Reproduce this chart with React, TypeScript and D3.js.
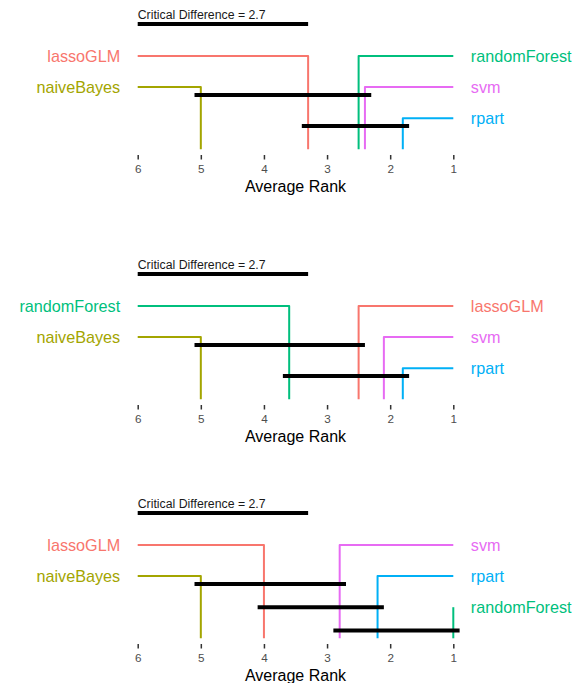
import React, { useEffect, useRef } from "react";
import { select, scaleLinear, axisBottom } from "d3";

// learners and their colours (ggplot hue palette)
const learners = ["lassoGLM", "naiveBayes", "randomForest", "rpart", "svm"];
const learnerColors = ["#F8766D", "#A3A500", "#00BF7D", "#00B0F6", "#E76BF3"];

// average ranks per panel, same order as learners
const ranksTop = [3.3, 5.0, 2.5, 1.8, 2.4];
const ranksMiddle = [2.5, 5.0, 3.6, 1.8, 2.1];
const ranksBottom = [4.0, 5.0, 1.0, 2.2, 2.8];

// groups not significantly different: [worst, best]
const cliquesTop = [["naiveBayes", "svm"], ["lassoGLM", "rpart"]];
const cliquesMiddle = [["naiveBayes", "lassoGLM"], ["randomForest", "rpart"]];
const cliquesBottom = [["naiveBayes", "svm"], ["lassoGLM", "rpart"], ["svm", "randomForest"]];

const criticalDifference = 2.7;
const rankTicks = [6, 5, 4, 3, 2, 1];

const panels = [
  { ranks: ranksTop, cliques: cliquesTop, offset: 0 },
  { ranks: ranksMiddle, cliques: cliquesMiddle, offset: 250 },
  { ranks: ranksBottom, cliques: cliquesBottom, offset: 489 },
];

const FONT = "'Liberation Sans', Arial, Helvetica, sans-serif";

const App = () => {
  const svgRef = useRef<SVGSVGElement>(null);

  useEffect(() => {
    const svg = select(svgRef.current);
    svg.selectAll("*").remove();

    const x = scaleLinear().domain([6, 1]).range([137.7, 453.3]);
    // vertical level: 0 = bottom of the drop lines, rows at 3, 2, 1
    const y = scaleLinear().domain([0, 3]).range([149.3, 56]);

    panels.forEach((p) => {
      const g = svg.append("g").attr("transform", `translate(0, ${p.offset})`);

      // critical difference bar
      g.append("text")
        .attr("x", x(6))
        .attr("y", 19.3)
        .attr("font-family", FONT)
        .attr("font-size", 12.3)
        .attr("fill", "#1a1a1a")
        .text(`Critical Difference = ${criticalDifference}`);
      g.append("line")
        .attr("x1", x(6))
        .attr("x2", x(6 - criticalDifference))
        .attr("y1", 24)
        .attr("y2", 24)
        .attr("stroke", "#000")
        .attr("stroke-width", 4);

      const items = learners.map((name, i) => ({ name, rank: p.ranks[i], color: learnerColors[i] }));
      const sorted = items.slice().sort((a, b) => b.rank - a.rank);
      const left = sorted.slice(0, 2).sort((a, b) => a.rank - b.rank);
      const right = sorted.slice(2);

      const drawSide = (list, isLeft) => {
        list.forEach((d, i) => {
          const level = 3 - i;
          const xEnd = isLeft ? x(6) : x(1);
          g.append("path")
            .attr("d", `M${xEnd},${y(level)}H${x(d.rank)}V${y(0)}`)
            .attr("fill", "none")
            .attr("stroke", d.color)
            .attr("stroke-width", 2)
            .attr("stroke-linejoin", "round");
          g.append("text")
            .attr("x", isLeft ? xEnd - 17.5 : xEnd + 17.5)
            .attr("y", y(level))
            .attr("dy", "0.35em")
            .attr("text-anchor", isLeft ? "end" : "start")
            .attr("font-family", FONT)
            .attr("font-size", 16.2)
            .attr("fill", d.color)
            .text(d.name);
        });
      };
      drawSide(left, true);
      drawSide(right, false);

      // clique bars
      const n = p.cliques.length;
      const lastLevel = n === 2 ? 0.75 : 0.25;
      p.cliques.forEach((c, i) => {
        const r0 = p.ranks[learners.indexOf(c[0])];
        const r1 = p.ranks[learners.indexOf(c[1])];
        const level = 1.75 - (i * (1.75 - lastLevel)) / (n - 1);
        g.append("line")
          .attr("x1", x(r0 + 0.1))
          .attr("x2", x(r1 - 0.1))
          .attr("y1", y(level))
          .attr("y2", y(level))
          .attr("stroke", "#000")
          .attr("stroke-width", 4);
      });

      // axis
      const axis = g.append("g")
        .attr("transform", "translate(0, 155)")
        .call(axisBottom(x).tickValues(rankTicks).tickSize(4.5).tickPadding(5.5).tickFormat((d) => `${d}`));
      axis.select(".domain").remove();
      axis.selectAll(".tick line").attr("stroke", "#333").attr("stroke-width", 1.5);
      axis.selectAll(".tick text")
        .attr("font-family", FONT)
        .attr("font-size", 11.7)
        .attr("fill", "#4d4d4d");

      g.append("text")
        .attr("x", x(3.5))
        .attr("y", 191.7)
        .attr("text-anchor", "middle")
        .attr("font-family", FONT)
        .attr("font-size", 16)
        .attr("fill", "#000")
        .text("Average Rank");
    });
  }, []);

  return (
    <svg
      ref={svgRef}
      width={582}
      height={683}
      style={{ position: "absolute", left: 0, top: 0, background: "#fff" }}
    ></svg>
  );
};

export default App;
